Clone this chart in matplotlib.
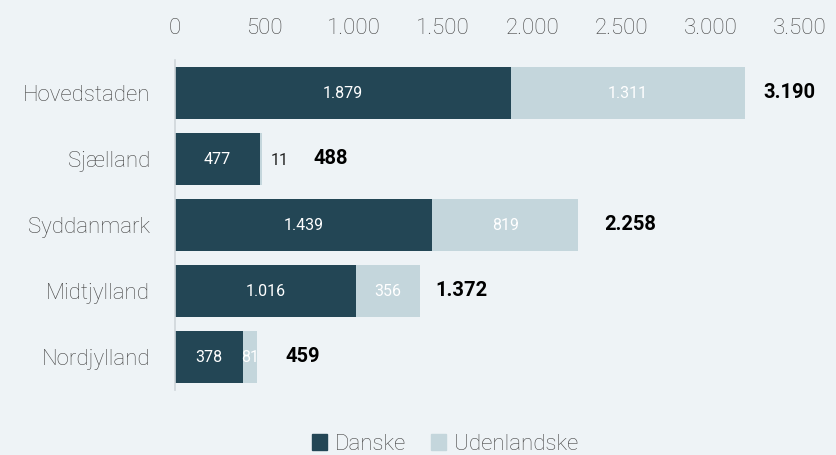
"""Stacked horizontal bars: Danske vs. Udenlandske per region."""

import matplotlib

matplotlib.use("Agg")
import matplotlib.pyplot as plt
from matplotlib.patches import Patch

REGIONS = ["Hovedstaden", "Sjælland", "Syddanmark", "Midtjylland", "Nordjylland"]
DANSKE = [1879, 477, 1439, 1016, 378]
UDENLANDSKE = [1311, 11, 819, 356, 81]
X_TICKS = [0, 500, 1000, 1500, 2000, 2500, 3000, 3500]

# gap (px) between bar end and the bold total
TOTAL_PAD_PX = [19, 51, 26, 15, 29]

BG = "#eef3f6"
DARK = "#234655"
LIGHT = "#c4d6dc"
TEXT = "#454545"
FONT = "Roboto"


def fmt(value):
    return f"{value:,}".replace(",", ".")


def main():
    fig = plt.figure(figsize=(8.36, 4.55), dpi=100, facecolor=BG)
    ax = fig.add_axes([175 / 836, 65 / 455, 625 / 836, 330 / 455], facecolor=BG)

    y = list(range(len(REGIONS)))
    ax.barh(y, DANSKE, height=0.79, color=DARK, label="Danske")
    ax.barh(y, UDENLANDSKE, left=DANSKE, height=0.79, color=LIGHT, label="Udenlandske")

    inner = dict(fontsize=11.5, family=FONT, fontweight="normal")
    for i, (d, u) in enumerate(zip(DANSKE, UDENLANDSKE)):
        ax.text(d / 2, i, fmt(d), color="white", ha="center", va="center", **inner)
        if u < 50:
            ax.annotate(fmt(u), (d + u, i), xytext=(6, -1), textcoords="offset points",
                        color="#222222", ha="left", va="center", **inner)
        else:
            ax.text(d + u / 2, i, fmt(u), color="white", ha="center", va="center", **inner)
        ax.annotate(fmt(d + u), (d + u, i), xytext=(TOTAL_PAD_PX[i] * 0.72, 0),
                    textcoords="offset points", ha="left", va="center",
                    fontsize=14.5, family=FONT, fontweight="bold", color="black")

    ax.set_xlim(0, 3500)
    ax.set_ylim(len(REGIONS) - 0.5, -0.5)
    ax.set_xticks(X_TICKS)
    ax.set_xticklabels([fmt(t) for t in X_TICKS])
    ax.set_yticks(y)
    ax.set_yticklabels(REGIONS)
    ax.xaxis.tick_top()
    ax.tick_params(axis="x", length=0, pad=15, labelsize=16, labelcolor=TEXT)
    ax.tick_params(axis="y", length=0, pad=18, labelsize=16, labelcolor=TEXT)
    for label in ax.get_xticklabels() + ax.get_yticklabels():
        label.set_family(FONT)
        label.set_fontweight("light")

    for side in ("top", "right", "bottom"):
        ax.spines[side].set_visible(False)
    ax.spines["left"].set_color("#cfd6da")
    ax.spines["left"].set_linewidth(1.2)

    handles = [Patch(color=DARK, label="Danske"), Patch(color=LIGHT, label="Udenlandske")]
    fig.legend(handles=handles, loc="center", bbox_to_anchor=(445 / 836, 1 - 444 / 455),
               ncol=2, frameon=False, handlelength=0.7, handleheight=0.7,
               handletextpad=0.35, columnspacing=1.1,
               prop={"family": FONT, "weight": "light", "size": 16}, labelcolor=TEXT)

    fig.savefig("out.png", dpi=100, facecolor=BG)
    plt.close(fig)


if __name__ == "__main__":
    main()
